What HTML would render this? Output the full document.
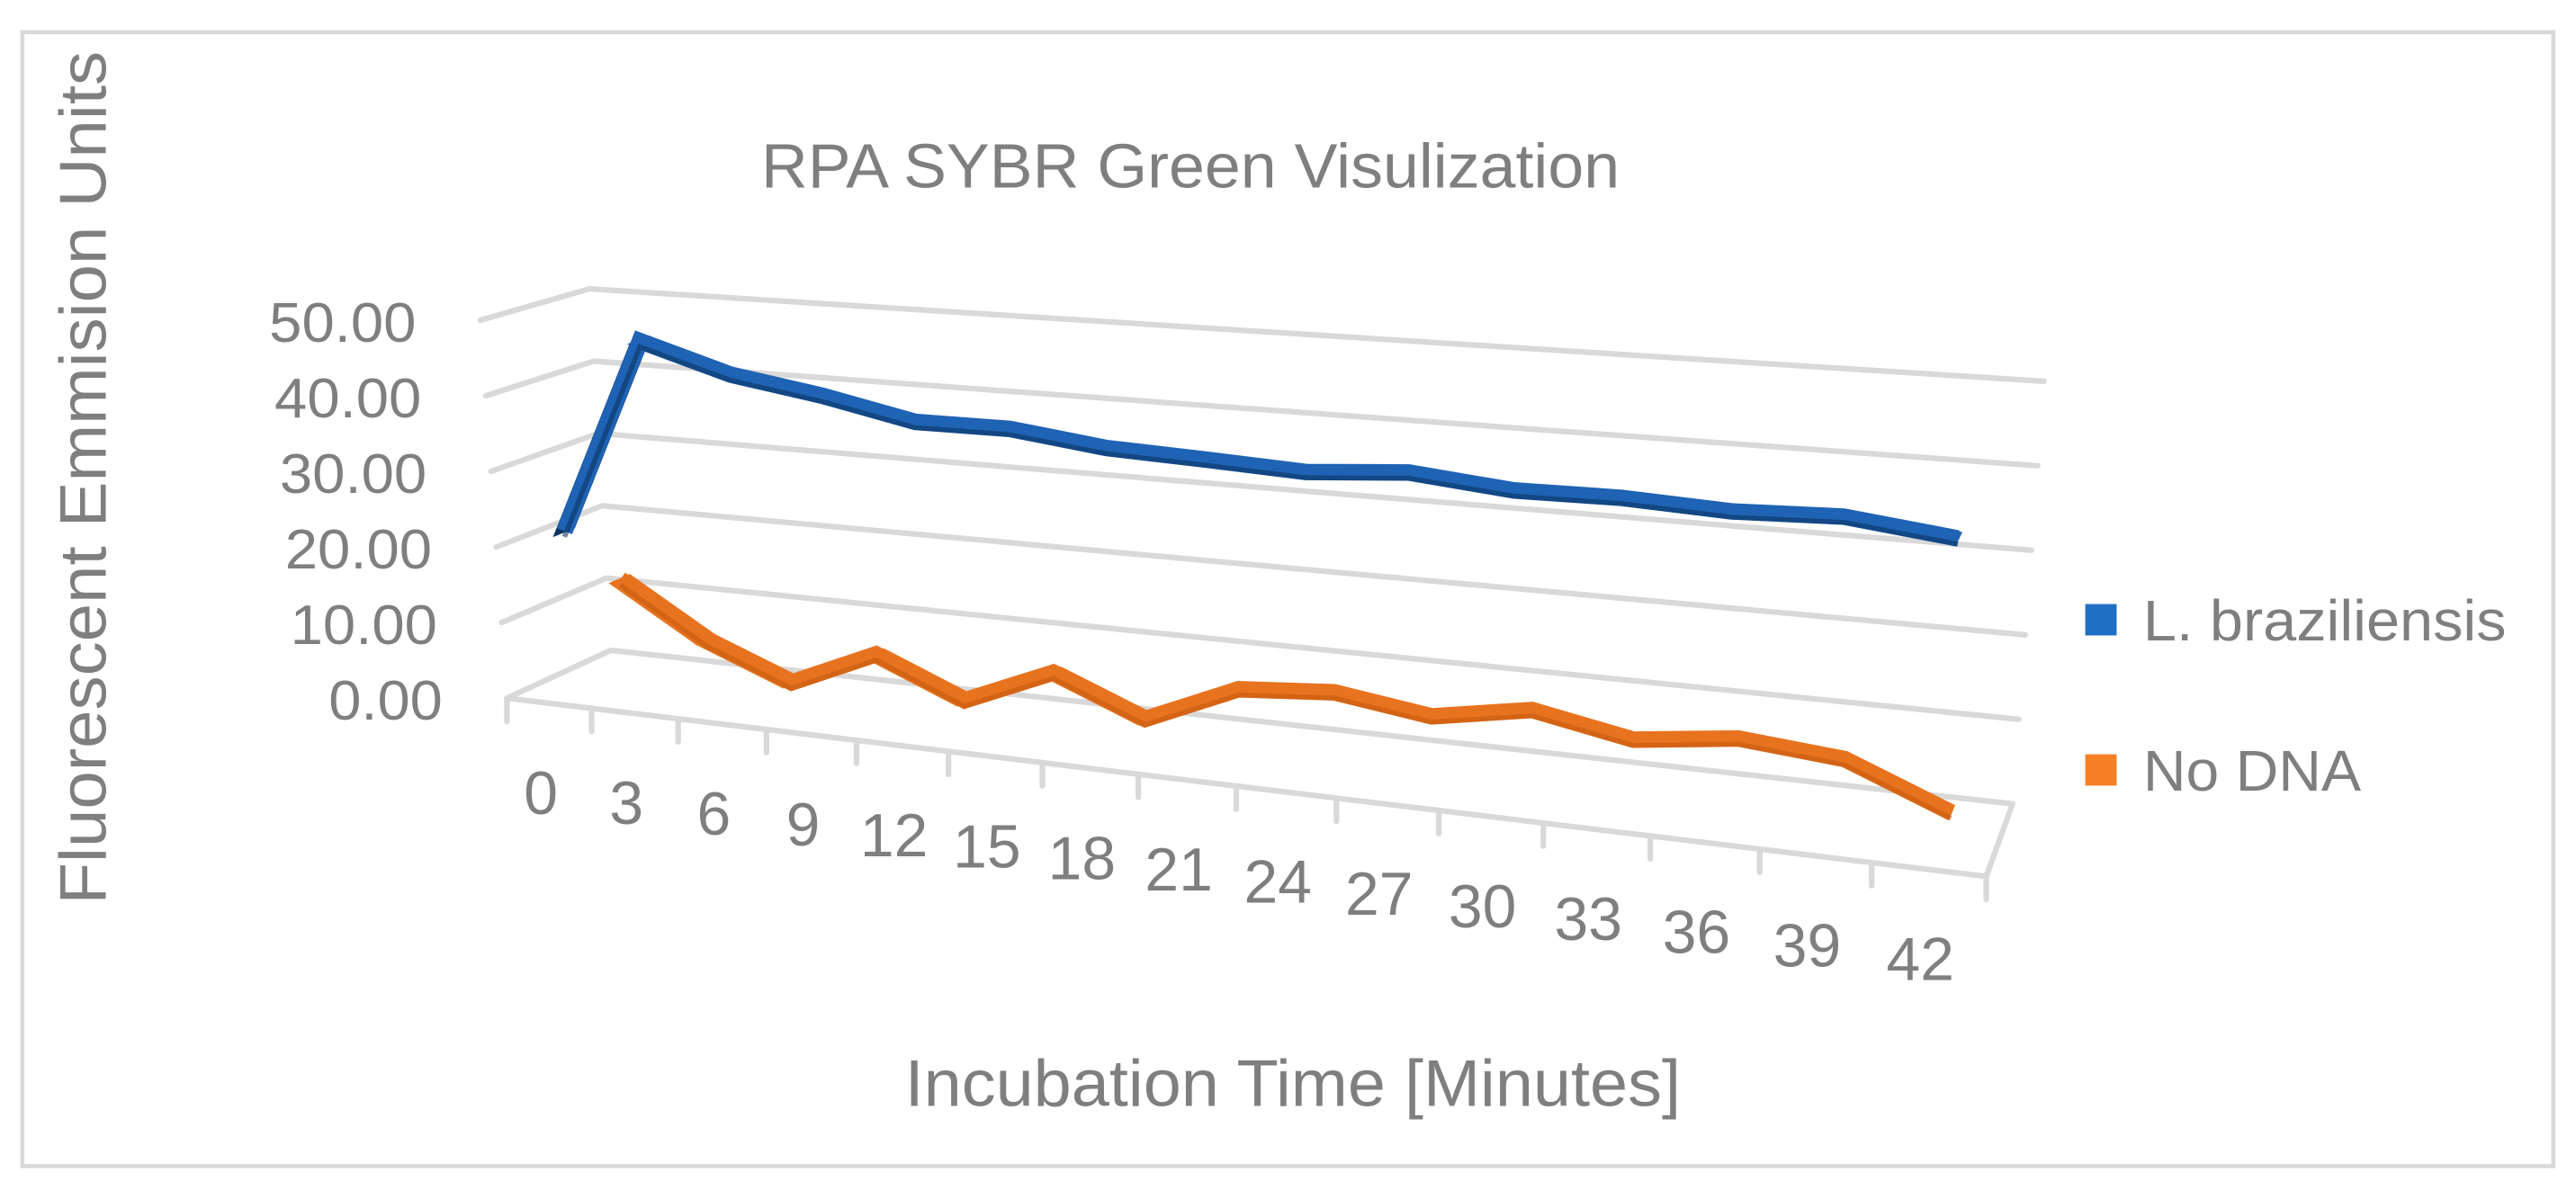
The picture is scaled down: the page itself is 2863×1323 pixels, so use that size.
<!DOCTYPE html>
<html><head><meta charset="utf-8"><style>
html,body{margin:0;padding:0;background:#fff;}
svg{display:block;}
text{font-family:"Liberation Sans",sans-serif;fill:#7f7f7f;}
</style></head><body>
<svg id="chart" width="2863" height="1323" viewBox="0 0 1560.2 721" xmlns="http://www.w3.org/2000/svg">
<rect x="13.5" y="19.5" width="1533" height="687" fill="#fff" stroke="#d9d9d9" stroke-width="2.5"/>
<text x="461" y="113.5" font-size="38" textLength="520" lengthAdjust="spacingAndGlyphs">RPA SYBR Green Visulization</text>
<text transform="translate(64,31) rotate(-90)" x="-517" y="0" font-size="40" textLength="517" lengthAdjust="spacingAndGlyphs">Fluorescent Emmision Units</text>
<text x="548" y="670" font-size="40" textLength="470" lengthAdjust="spacingAndGlyphs">Incubation Time [Minutes]</text>
<g id="grid"></g>
<g id="ylabels"></g>
<g id="xlabels"></g>
<g id="series"></g>
<g>
  <g>
    <rect x="1263" y="366" width="19" height="19" fill="#1f6fc5"/>
    <text x="1298" y="388" font-size="35" textLength="220" lengthAdjust="spacingAndGlyphs">L. braziliensis</text>
  </g>
  <g>
    <rect x="1263" y="457" width="19" height="19" fill="#f58025"/>
    <text x="1298" y="479" font-size="35" textLength="132" lengthAdjust="spacingAndGlyphs">No DNA</text>
  </g>
</g>
</svg>
<script>
const categories = [0,3,6,9,12,15,18,21,24,27,30,33,36,39,42];
const seriesBlue = [21.3,47.5,44.0,42.2,39.8,39.9,38.5,38.1,37.6,38.6,37.5,37.7,37.2,37.7,36.3];
const seriesOrange = [11.9,4.9,0.4,5.4,0.6,5.5,0.8,5.9,6.8,5.1,7.2,4.9,6.4,5.3,0.4];
const yTicks = [0,10,20,30,40,50];
const yTickLabels = ["0.00","10.00","20.00","30.00","40.00","50.00"];

const NS = "http://www.w3.org/2000/svg";
const FL=[307,423], FR=[1203,531], BL=[370,394], BR=[1219,487];
const VFL=[-0.32,-4.58], VFR=[0.4,-5.3], VBL=[-0.26,-4.38], VBR=[0.38,-5.12];
const K=0.175;
function persp(u){return u/(1+K*(1-u));}
function lerp(a,b,t){return [a[0]+(b[0]-a[0])*t, a[1]+(b[1]-a[1])*t];}
function proj(u0,z,v){
  const u=persp(u0);
  const f=lerp(FL,FR,u), b=lerp(BL,BR,u), p=lerp(f,b,z);
  const vf=lerp(VFL,VFR,u), vb=lerp(VBL,VBR,u), vv=lerp(vf,vb,z);
  return [p[0]+vv[0]*v, p[1]+vv[1]*v];
}
const N = categories.length;
function uOf(i){return (i+0.5)/N;}
function el(tag,attrs,parent){const e=document.createElementNS(NS,tag);for(const k in attrs)e.setAttribute(k,attrs[k]);parent.appendChild(e);return e;}
const grid=document.getElementById('grid');
const gs={stroke:"#d9d9d9","stroke-width":3.4,fill:"none","stroke-linejoin":"round","stroke-linecap":"round"};
yTicks.forEach(function(t){
  const a=proj(0,0,t), b=proj(0,1,t), c=proj(1,1,t);
  const g=el('polyline',Object.assign({points:a.join(',')+' '+b.join(',')+' '+c.join(',')},gs),grid);
  
  
});
(function(){
  const a=proj(0,0,0), b=proj(1,0,0), c=proj(1,1,0);
  const f=el('polyline',Object.assign({points:a.join(',')+' '+b.join(',')+' '+c.join(',')},gs),grid);
  
  
  for(let i=0;i<=N;i++){
    const p=proj(i/N,0,0);
    const tk=el('line',Object.assign({x1:p[0],y1:p[1],x2:p[0],y2:p[1]+14},gs),grid);
    
    
  }
})();
const yl=document.getElementById('ylabels');
yTicks.forEach(function(t,k){
  const p=proj(0,0,t);
  const tx=el('text',{x:p[0]-128,y:p[1]+13,"font-size":34,textLength:89,lengthAdjust:"spacingAndGlyphs"},yl);
  if(yTickLabels[k].length<5){tx.setAttribute('textLength',69);tx.setAttribute('x',p[0]-108);}
  tx.textContent=yTickLabels[k];
  
  
});
const xl=document.getElementById('xlabels');
categories.forEach(function(c,i){
  const p=proj(uOf(i),0,0);
  const tx=el('text',{x:p[0]-5,y:p[1]+67,"font-size":37,"text-anchor":"middle"},xl);
  tx.textContent=String(c);
  
  
});
const sl=document.getElementById('series');
function drawSeries(vals,z,top,side,name){
  const g=el('g',{},sl);
  
  
  const d=0.09;
  for(let i=0;i<vals.length-1;i++){
    const a1=proj(uOf(i),z-d,vals[i]), b1=proj(uOf(i+1),z-d,vals[i+1]);
    const a2=proj(uOf(i),z+d,vals[i]), b2=proj(uOf(i+1),z+d,vals[i+1]);
    const steep=Math.abs(vals[i+1]-vals[i])>15;
    const q=el('polygon',{points:[a1,b1,b2,a2].map(p=>p.join(',')).join(' '),fill:steep?side:top,stroke:steep?side:top,"stroke-width":1.5},g);
    
    
  }
  const pts=vals.map((v,i)=>proj(uOf(i),z,v));
  const pl=el('polyline',{points:pts.map(p=>p.join(',')).join(' '),fill:"none",stroke:top,"stroke-width":10,"stroke-linejoin":"miter"},g);
  
  
  const pl2=el('polyline',{points:pts.map(p=>[p[0],p[1]+3.5].join(',')).join(' '),fill:"none",stroke:side,"stroke-width":3,"opacity":0.6},g);
  
  
}
drawSeries(seriesOrange,0.75,"#e8731f","#c55a11","series-no-dna");
drawSeries(seriesBlue,0.25,"#1f63b4","#0c3563","series-l-braziliensis");
</script>
</body></html>
